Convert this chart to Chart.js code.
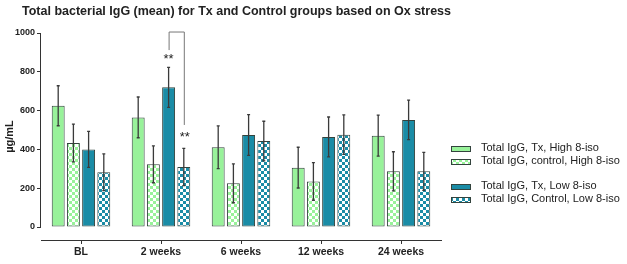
<!DOCTYPE html>
<html lang="en">
<head>
  <meta charset="UTF-8">
  <title>Total bacterial IgG</title>
  <script src="https://cdn.jsdelivr.net/npm/chart.js"></script>
  <style>
    html, body {
      margin: 0;
      background: white;
    }
    #wrap {
      position: relative;
      width: 627px;
      height: 264px;
    }
  </style>
</head>
<body>
  <div id="wrap">
    <canvas id="igg"></canvas>
  </div>

  <script>
    const categories = ['BL', '2 weeks', '6 weeks', '12 weeks', '24 weeks'];
    const seriesNames = [
      'Total IgG, Tx, High 8-iso',
      'Total IgG, control, High 8-iso',
      'Total IgG, Tx, Low 8-iso',
      'Total IgG, Control, Low 8-iso'
    ];

    const txHigh = [625, 565, 411, 306, 471];
    const ctrlHigh = [433, 323, 225, 235, 287];
    const txLow = [400, 720, 474, 464, 552];
    const ctrlLow = [282, 309, 443, 476, 287];

    const txHighErr = [103, 105, 110, 105, 106];
    const ctrlHighErr = [97, 95, 100, 97, 101];
    const txLowErr = [93, 103, 105, 103, 102];
    const ctrlLowErr = [95, 96, 102, 102, 98];

    const yTicks = [0, 200, 400, 600, 800, 1000];

    const green = '#98f29a';
    const teal = '#1a8ca6';
    const edge = '#33433d';
    const font = 'Arial, "Liberation Sans", sans-serif';

    function checker(color) {
      const c = document.createElement('canvas');
      c.width = 6;
      c.height = 6;
      const g = c.getContext('2d');
      g.fillStyle = 'white';
      g.fillRect(0, 0, 6, 6);
      g.fillStyle = color;
      g.fillRect(0, 0, 3, 3);
      g.fillRect(3, 3, 3, 3);
      return g.createPattern(c, 'repeat');
    }

    const fills = [green, checker(green), teal, checker(teal)];
    const errors = [txHighErr, ctrlHighErr, txLowErr, ctrlLowErr];
    const values = [txHigh, ctrlHigh, txLow, ctrlLow];

    // error bars, significance marks, title and legend
    const extras = {
      id: 'extras',
      afterDatasetsDraw(chart) {
        const c = chart.ctx;
        const y = chart.scales.y;
        c.save();

        // y axis line, only 0..1000
        c.strokeStyle = '#333';
        c.lineWidth = 1;
        c.beginPath();
        c.moveTo(chart.chartArea.left - 0.5, y.getPixelForValue(1000));
        c.lineTo(chart.chartArea.left - 0.5, y.getPixelForValue(0));
        c.stroke();

        c.strokeStyle = '#3a3a3a';
        c.lineWidth = 1.3;
        chart.data.datasets.forEach((ds, i) => {
          chart.getDatasetMeta(i).data.forEach((bar, j) => {
            const top = y.getPixelForValue(values[i][j] + errors[i][j]);
            const bot = y.getPixelForValue(values[i][j] - errors[i][j]);
            c.beginPath();
            c.moveTo(bar.x, top);
            c.lineTo(bar.x, bot);
            c.moveTo(bar.x - 1.5, top);
            c.lineTo(bar.x + 1.5, top);
            c.moveTo(bar.x - 1.5, bot);
            c.lineTo(bar.x + 1.5, bot);
            c.stroke();
          });
        });

        // significance bracket at 2 weeks
        const b3 = chart.getDatasetMeta(2).data[1];
        const b4 = chart.getDatasetMeta(3).data[1];
        const yTop = y.getPixelForValue(1005);
        c.strokeStyle = '#777';
        c.lineWidth = 1;
        c.beginPath();
        c.moveTo(b3.x + 0.5, y.getPixelForValue(912));
        c.lineTo(b3.x + 0.5, yTop);
        c.lineTo(b4.x + 0.5, yTop);
        c.lineTo(b4.x + 0.5, y.getPixelForValue(526));
        c.stroke();
        c.fillStyle = '#222';
        c.font = '13px ' + font;
        c.textAlign = 'center';
        c.textBaseline = 'middle';
        c.fillText('**', b3.x, y.getPixelForValue(864));
        c.fillText('**', b4.x + 1, y.getPixelForValue(460));

        // title
        c.font = 'bold 12.5px ' + font;
        c.textAlign = 'left';
        c.fillText('Total bacterial IgG (mean) for Tx and Control groups based on Ox stress', 22, 12);

        // legend
        const rows = [149, 162, 187, 200];
        c.font = '11px ' + font;
        seriesNames.forEach((name, i) => {
          c.fillStyle = fills[i];
          c.fillRect(451, rows[i] - 3, 20, 6);
          c.strokeStyle = edge;
          c.strokeRect(451.5, rows[i] - 2.5, 19, 5);
          c.fillStyle = '#222';
          c.fillText(name, 481, rows[i] - 1);
        });

        c.restore();
      }
    };

    new Chart(document.getElementById('igg'), {
      type: 'bar',
      data: {
        labels: categories,
        datasets: seriesNames.map((name, i) => ({
          label: name,
          data: values[i],
          backgroundColor: fills[i],
          borderColor: edge,
          borderWidth: 1,
          borderSkipped: false,
          categoryPercentage: 0.76,
          barPercentage: 0.85
        }))
      },
      options: {
        responsive: true,
        maintainAspectRatio: false,
        animation: false,
        layout: { padding: { top: 33, left: 1, right: 186, bottom: 0 } },
        plugins: {
          legend: { display: false },
          tooltip: { enabled: false }
        },
        scales: {
          x: {
            border: { display: true, color: '#333', width: 1 },
            grid: { drawOnChartArea: false, offset: false, tickLength: 4, color: '#333' },
            ticks: { color: '#222', padding: 2, font: { family: font, size: 10.5, weight: 'bold' } },
            afterFit(scale) { scale.height = 24; }
          },
          y: {
            min: -67,
            max: 1000,
            afterBuildTicks(scale) { scale.ticks = yTicks.map(v => ({ value: v })); },
            border: { display: false },
            grid: { drawOnChartArea: false, tickLength: 4, color: '#333' },
            ticks: {
              color: '#222',
              padding: 2,
              font: { family: font, size: 9, weight: 'bold' },
              callback: v => String(v)
            },
            title: {
              display: true,
              text: 'µg/mL',
              color: '#222',
              padding: { top: 2, bottom: 2 },
              font: { family: font, size: 11, weight: 'bold' }
            },
            afterFit(scale) { scale.width = 40; }
          }
        }
      },
      plugins: [extras]
    });
  </script>
</body>
</html>
